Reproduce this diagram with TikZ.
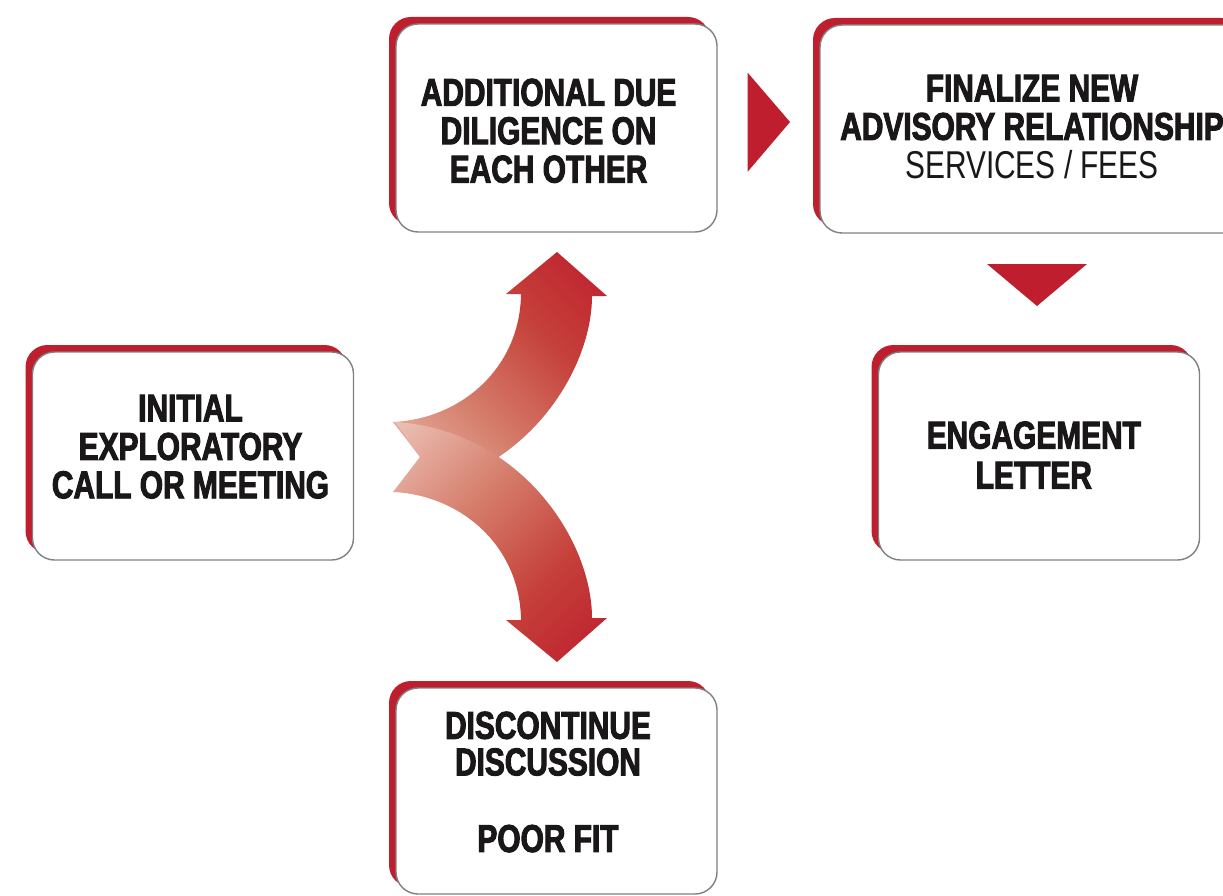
\documentclass[tikz,border=0pt]{standalone}
\usepackage{fontspec}
\usetikzlibrary{shadows}
\newfontfamily\cnd[FakeStretch=0.77, BoldFeatures={FakeBold=2.5}]{Liberation Sans}
\definecolor{rd}{HTML}{BE1E2D}
\definecolor{bordergrey}{HTML}{808080}
\definecolor{ink}{HTML}{1A1718}
\definecolor{arB}{HTML}{C5403A}
\definecolor{arC}{HTML}{D6806E}
\definecolor{arD}{HTML}{EDC3B8}
\definecolor{arE}{HTML}{FBF0EC}
\pgfdeclareverticalshading{arrowshade}{100bp}{color(0bp)=(rd); color(15bp)=(rd); color(37bp)=(arB); color(61bp)=(arC); color(86bp)=(arD); color(100bp)=(arE)}
\tikzset{
  stagebox/.style={rectangle, draw=bordergrey, line width=1.4pt, fill=white,
    rounded corners=22pt, minimum width=321pt, minimum height=208pt, inner sep=0pt,
    general shadow={fill=rd, shadow xshift=-7pt, shadow yshift=7pt}},
  stagetext/.style={align=center, text=ink, inner sep=0pt,
    font=\cnd\bfseries\fontsize{38.8}{38.4}\selectfont},
  pointer/.style={fill=rd},
  bigarrow/.style={shading=arrowshade}
}
\begin{document}
\begin{tikzpicture}[x=1pt,y=-1pt]
\useasboundingbox (0,0) rectangle (1223,896);
\clip (0,0) rectangle (1223,896);

% boxes
\node[stagebox] (init) at (193,456) {};
\node[stagebox] (addl) at (556.5,128) {};
\node[stagebox, minimum width=430pt] (final) at (1035,129) {};
\node[stagebox] (engage) at (1039,456) {};
\node[stagebox, minimum height=206pt] (disc) at (556.5,791) {};

% texts
\node[stagetext] (tinit) at (190.5,446.7) {INITIAL\\EXPLORATORY\\CALL OR MEETING};
\node[stagetext] (taddl) at (548.6,130.8) {ADDITIONAL DUE\\DILIGENCE ON\\EACH OTHER};
\node[stagetext] (tfinal) at (1032,126.7) {FINALIZE NEW\\ADVISORY RELATIONSHIP\\{\mdseries SERVICES / FEES}};
\node[stagetext, font=\cnd\bfseries\fontsize{38.8}{40}\selectfont] (tengage) at (1033.8,455) {ENGAGEMENT\\LETTER};
\node[stagetext, font=\cnd\bfseries\fontsize{38.8}{36.6}\selectfont] (tdisc) at (548,782) {DISCONTINUE\\DISCUSSION\\[40pt]POOR FIT};

% pointers between boxes
\fill[pointer] (747.7,72.7) -- (790,122) -- (747.7,171.7) -- cycle;
\fill[pointer] (987,264) -- (1087,264) -- (1037,306) -- cycle;

% curved arrows
\shade[bigarrow, shading angle=135] (395,492) .. controls (520,484) and (592,374) .. (592,296) -- (607,296) -- (557,252) -- (506,294) -- (521,294) .. controls (520,369) and (460,419) .. (393,422) -- (420,457) -- cycle;
\shade[bigarrow, shading angle=45] (395,422) .. controls (520,430) and (592,540) .. (592,618) -- (607,618) -- (557,662) -- (506,620) -- (521,620) .. controls (520,545) and (460,495) .. (393,492) -- (420,457) -- cycle;
\end{tikzpicture}
\end{document}
